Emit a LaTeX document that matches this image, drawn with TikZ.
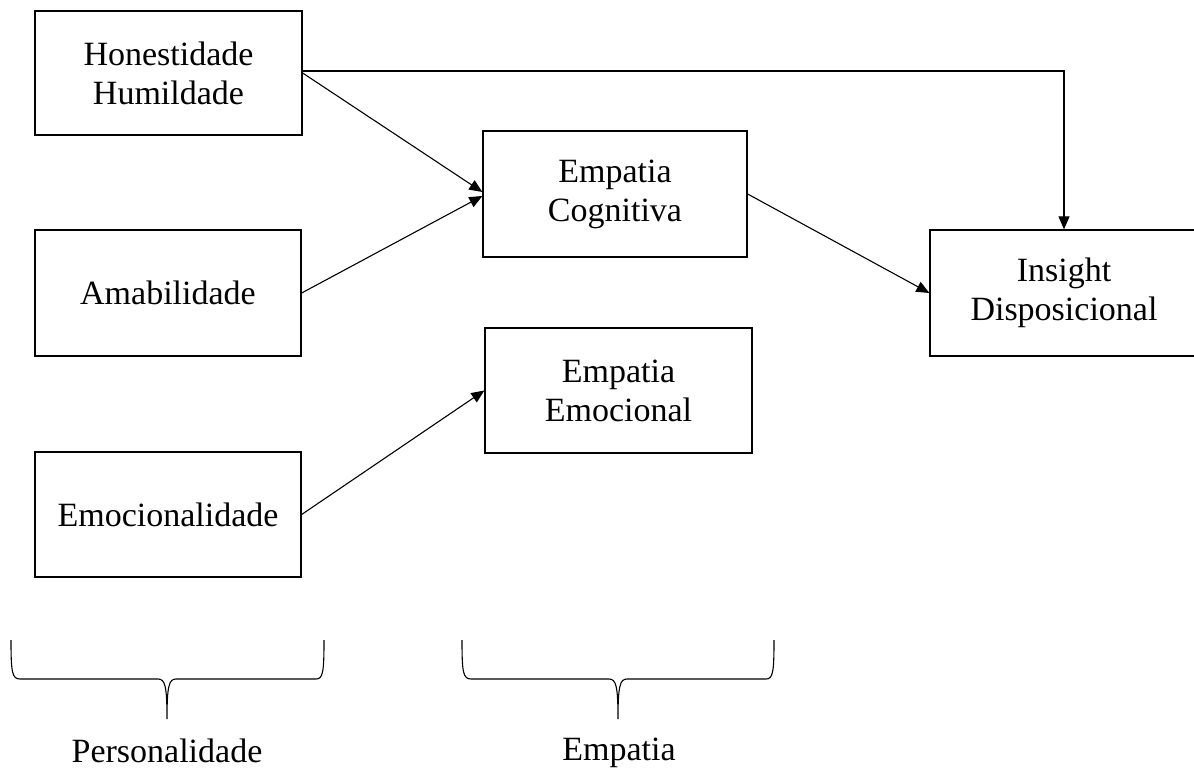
\documentclass[tikz,border=0pt]{standalone}
\usepackage{fontspec}
\setmainfont{Liberation Serif}
\usetikzlibrary{arrows.meta}
\begin{document}
\begin{tikzpicture}[x=1pt,y=-1pt,
  box/.style={draw, line width=1.3pt, align=center, inner sep=0pt, font=\fontsize{34}{39}\selectfont},
  arr/.style={line width=1.1pt, -{Triangle[length=13pt,width=11pt]}},
  brc/.style={line width=1.1pt},
  lbl/.style={anchor=base, inner sep=0pt, font=\fontsize{34}{39}\selectfont}]
\useasboundingbox (0,0) rectangle (1194,768);
\clip (0,0) rectangle (1194,768);
\node[box, minimum width=267pt, minimum height=124pt] (hh) at (168.5,73) {Honestidade\\Humildade};
\node[box, minimum width=266pt, minimum height=126pt] (am) at (168,293) {Amabilidade};
\node[box, minimum width=266pt, minimum height=125pt] (em) at (168,514.5) {Emocionalidade};
\node[box, minimum width=264pt, minimum height=126pt] (cog) at (615,194) {Empatia\\Cognitiva};
\node[box, minimum width=267pt, minimum height=125pt] (emo) at (618.5,390.5) {Empatia\\Emocional};
\node[box, minimum width=268pt, minimum height=126pt] (ins) at (1064,293) {Insight\\Disposicional};
\draw[arr] (hh.east) -- ([yshift=2pt]cog.west);
\draw[arr] (am.east) -- ([yshift=-2pt]cog.west);
\draw[arr] (em.east) -- (emo.west);
\draw[arr] (cog.east) -- (ins.west);
\draw[arr] ([yshift=2pt]hh.east) -| (ins.north);
\draw[brc] (11,640) .. controls (11,672) and (12,679) .. (20,679) -- (158,679)
  .. controls (165,679) and (167,686) .. (167,719)
  .. controls (167,686) and (169,679) .. (176,679) -- (316,679)
  .. controls (323,679) and (324,672) .. (324,640);
\draw[brc] (462,640) .. controls (462,672) and (463,679) .. (471,679) -- (609,679)
  .. controls (616,679) and (618,686) .. (618,719)
  .. controls (618,686) and (620,679) .. (627,679) -- (766,679)
  .. controls (773,679) and (774,672) .. (774,640);
\node[lbl] (pers) at (167,762) {Personalidade};
\node[lbl] (emp) at (619,760) {Empatia};
\end{tikzpicture}
\end{document}
